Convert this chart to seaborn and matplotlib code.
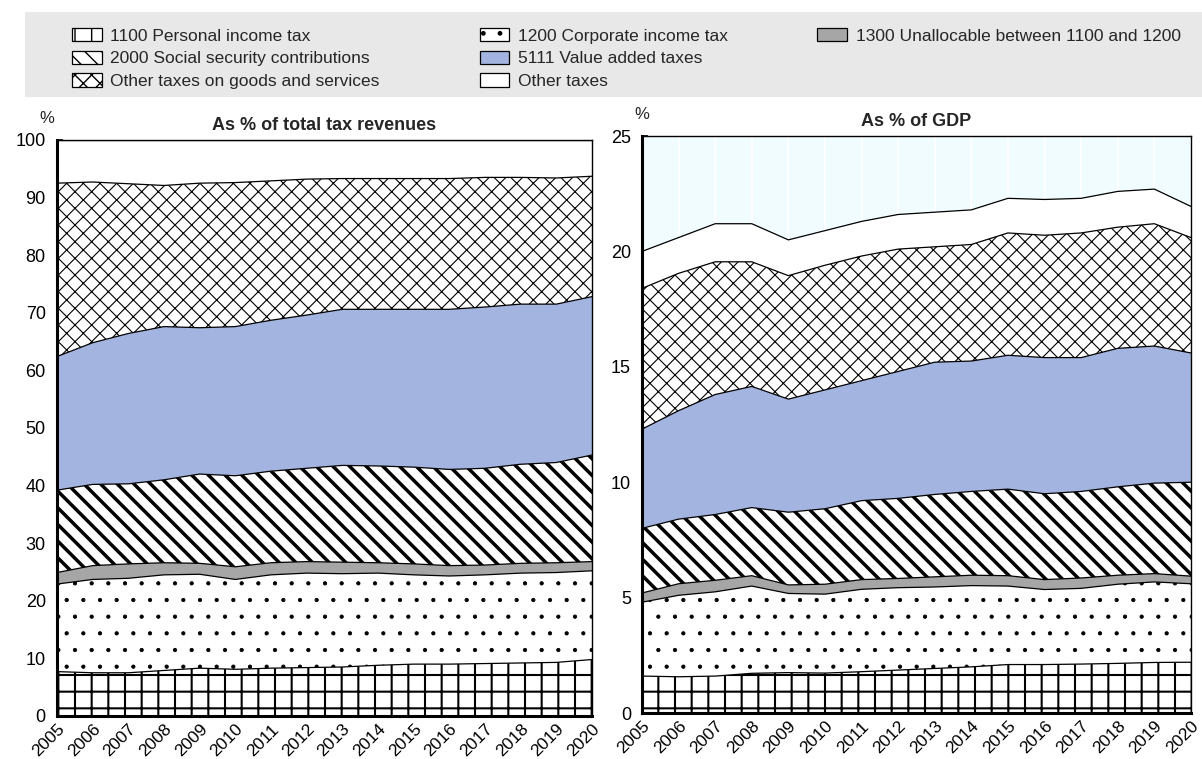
import numpy as np
import pandas as pd
import seaborn as sns
import matplotlib.pyplot as plt
from matplotlib.patches import Patch, Rectangle

years = list(range(2005, 2021))

labels = ['1100 Personal income tax', '1200 Corporate income tax',
          '1300 Unallocable between 1100 and 1200', '2000 Social security contributions',
          '5111 Value added taxes', 'Other taxes on goods and services', 'Other taxes']

# As % of total tax revenues (component shares)
rev_pit = [7.7, 7.5, 7.5, 7.9, 8.3, 8.1, 8.3, 8.4, 8.5, 8.8, 9.0, 9.0, 9.1, 9.2, 9.3, 9.8]
rev_cit = [15.2, 16.2, 16.4, 16.6, 16.3, 15.6, 16.2, 16.4, 16.2, 16.0, 15.5, 15.3, 15.4, 15.6, 15.6, 15.4]
rev_unall = [2.0, 2.4, 2.5, 2.1, 1.9, 2.2, 2.1, 2.0, 2.0, 1.8, 1.9, 1.8, 1.7, 1.7, 1.7, 1.6]
rev_ssc = [14.3, 14.1, 13.9, 14.4, 15.5, 15.8, 15.9, 16.2, 16.8, 16.8, 16.8, 16.7, 16.8, 17.2, 17.4, 18.5]
rev_vat = [23.2, 24.6, 26.1, 26.6, 25.4, 25.9, 26.2, 26.6, 27.1, 27.2, 27.4, 27.8, 28.0, 27.8, 27.5, 27.5]
rev_otgs = [30.1, 27.9, 26.0, 24.5, 25.1, 25.0, 24.2, 23.6, 22.7, 22.7, 22.7, 22.7, 22.5, 22.0, 21.9, 20.9]
rev_other = [7.5, 7.3, 7.6, 7.9, 7.5, 7.4, 7.1, 6.8, 6.7, 6.7, 6.7, 6.7, 6.5, 6.5, 6.6, 6.3]

# As % of GDP
gdp_pit = [1.60, 1.57, 1.60, 1.72, 1.75, 1.73, 1.79, 1.86, 1.93, 2.00, 2.10, 2.10, 2.12, 2.15, 2.19, 2.20]
gdp_cit = [3.20, 3.53, 3.65, 3.78, 3.43, 3.42, 3.57, 3.57, 3.53, 3.52, 3.40, 3.25, 3.28, 3.43, 3.49, 3.40]
gdp_unall = [0.40, 0.50, 0.50, 0.45, 0.37, 0.43, 0.42, 0.40, 0.44, 0.45, 0.45, 0.43, 0.45, 0.39, 0.36, 0.33]
gdp_ssc = [2.80, 2.80, 2.85, 2.95, 3.15, 3.27, 3.42, 3.47, 3.57, 3.63, 3.75, 3.72, 3.75, 3.83, 3.92, 4.07]
gdp_vat = [4.30, 4.70, 5.20, 5.25, 4.90, 5.15, 5.20, 5.50, 5.73, 5.65, 5.80, 5.90, 5.80, 6.00, 5.94, 5.60]
gdp_otgs = [6.10, 5.95, 5.75, 5.40, 5.35, 5.40, 5.40, 5.30, 5.00, 5.05, 5.30, 5.30, 5.40, 5.25, 5.30, 5.00]
gdp_other = [1.60, 1.55, 1.65, 1.65, 1.55, 1.50, 1.50, 1.50, 1.50, 1.50, 1.50, 1.55, 1.50, 1.55, 1.50, 1.35]

rev_series = [rev_pit, rev_cit, rev_unall, rev_ssc, rev_vat, rev_otgs, rev_other]
gdp_series = [gdp_pit, gdp_cit, gdp_unall, gdp_ssc, gdp_vat, gdp_otgs, gdp_other]

# face colour, hatch, hatch line width
styles = [('white', '+', 1.5),
          ('white', '.', 0.6),
          ('#a6a6a6', '', 1.0),
          ('white', '\\\\', 2.5),
          ('#a4b4e0', '', 1.0),
          ('white', 'xx', 0.8),
          ('white', '', 1.0)]

sns.set_theme(style='white')
plt.rcParams['font.family'] = ['Liberation Sans Narrow', 'Liberation Sans', 'DejaVu Sans']
plt.rcParams['hatch.color'] = 'black'

fig = plt.figure(figsize=(12.02, 7.59), dpi=100)
ax1 = fig.add_axes([0.0474, 0.0567, 0.4451, 0.7589])
ax2 = fig.add_axes([0.5341, 0.0606, 0.4567, 0.7602])


def draw_panel(ax, series, ymax, step, title, pct_x):
    ax.set_facecolor('#f0fcff')
    cum = np.cumsum(np.array(series), axis=0)
    lower = np.zeros(len(years))
    for i, (fc, hatch, hlw) in enumerate(styles):
        with plt.rc_context({'hatch.linewidth': hlw}):
            coll = ax.fill_between(years, lower, cum[i], facecolor=fc, hatch=hatch,
                                   edgecolor='black', linewidth=0, zorder=2)
            if hasattr(coll, 'set_hatch_linewidth'):
                coll.set_hatch_linewidth(hlw)
        lower = cum[i]
    # boundary lines between the stacked areas
    df = pd.DataFrame({'year': np.tile(years, len(labels)),
                       'series': np.repeat(labels, len(years)),
                       'top': cum.ravel()})
    sns.lineplot(data=df, x='year', y='top', units='series', estimator=None,
                 color='black', linewidth=0.9, legend=False, ax=ax, zorder=3)
    ax.set_xlim(2005, 2020)
    ax.set_ylim(0, ymax)
    ax.set_xticks(years)
    ax.set_xticklabels([str(y) for y in years], rotation=45, ha='right',
                       rotation_mode='anchor', fontsize=12.5)
    ax.set_yticks(np.arange(0, ymax + 1, step))
    ax.tick_params(axis='y', labelsize=13, direction='in', length=4, width=1.2,
                   left=True, pad=8, colors='black')
    ax.tick_params(axis='x', direction='in', length=4, width=1.2, bottom=True,
                   pad=4, colors='black')
    ax.set_xlabel('')
    ax.set_ylabel('')
    ax.set_axisbelow(True)
    ax.grid(axis='x', color='white', linewidth=1.2)
    ax.grid(axis='y', visible=False)
    for side in ['left', 'bottom']:
        ax.spines[side].set_linewidth(2.2)
        ax.spines[side].set_color('black')
    for side in ['top', 'right']:
        ax.spines[side].set_linewidth(1.0)
        ax.spines[side].set_color('black')
    for sp in ax.spines.values():
        sp.set_zorder(5)
    ax.set_title(title, fontsize=13, fontweight='bold', pad=7)
    ax.text(pct_x, 1.025, '%', transform=ax.transAxes, fontsize=12, ha='center',
            va='bottom')


draw_panel(ax1, rev_series, 100, 10, 'As % of total tax revenues', -0.019)
draw_panel(ax2, gdp_series, 25, 5, 'As % of GDP', 0.0)

# legend band
fig.patches.append(Rectangle((0.0208, 0.8722), 0.9792, 0.112, transform=fig.transFigure,
                             facecolor='#e8e8e8', edgecolor='none', zorder=0))

handles = []
for (fc, hatch, hlw), lab in zip(styles, labels):
    with plt.rc_context({'hatch.linewidth': min(hlw, 1.5)}):
        p = Patch(facecolor=fc, hatch=hatch, edgecolor='black', linewidth=0.9, label=lab)
    handles.append(p)

columns = [([0, 3, 5], 0.060), ([1, 4, 6], 0.399), ([2], 0.680)]
for idx, xpos in columns:
    fig.legend(handles=[handles[i] for i in idx], loc='upper left',
               bbox_to_anchor=(xpos, 0.963), frameon=False, fontsize=12.5,
               handlelength=1.7, handleheight=0.8, handletextpad=0.5,
               labelspacing=0.4, borderpad=0.0, borderaxespad=0.0)

fig.savefig('out.png', dpi=100)
